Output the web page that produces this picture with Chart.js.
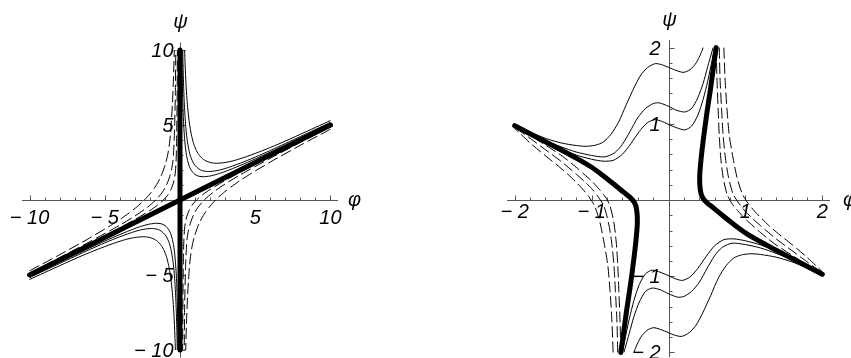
<!DOCTYPE html>
<html>
<head>
<meta charset="utf-8">
<script src="https://cdn.jsdelivr.net/npm/chart.js@4"></script>
<style>
  html, body { margin: 0; padding: 0; background: #fff; }
  body { width: 851px; height: 358px; position: relative; overflow: hidden; }
  canvas { position: absolute; top: 0; }
  #left { left: 0; }
  #right { left: 425px; }
</style>
</head>
<body>
<canvas id="left" width="425" height="358"></canvas>
<canvas id="right" width="426" height="358"></canvas>
<script>
// ---- left panel: phi, psi in [-10, 10] ----
const leftTickValues = [-10, -5, 5, 10];
const leftTickLabels = ['\u2212 10', '\u2212 5', '5', '10'];

const leftDiag = [[-10, -5], [10, 5]];
const leftVertical = [[0, -10], [0, 10]];

// solid branches, first quadrant
const leftSolidInner = [[0.121,10],[0.15,8.07],[0.18,6.76],[0.22,5.56],[0.25,4.93],[0.3,4.15],[0.35,3.6],[0.42,3.07],[0.5,2.65],[0.6,2.3],[0.7,2.06],[0.85,1.84],[1,1.7],[1.25,1.585],[1.55,1.55],[2,1.6],[2.5,1.73],[3,1.9],[4,2.3],[5,2.74],[6,3.2],[8,4.15],[10,5.12]];
const leftSolidMid = [[0.183,10],[0.2,9.1],[0.22,8.29],[0.25,7.33],[0.28,6.57],[0.32,5.79],[0.37,5.05],[0.43,4.4],[0.5,3.85],[0.6,3.3],[0.7,2.92],[0.85,2.54],[1,2.3],[1.25,2.07],[1.5,1.95],[1.9,1.9],[2.4,1.95],[3,2.1],[4,2.45],[5,2.86],[6,3.3],[8,4.23],[10,5.18]];
const leftSolidOuter = [[0.305,10],[0.34,9],[0.4,7.7],[0.46,6.75],[0.53,5.93],[0.64,5.01],[0.75,4.38],[0.9,3.78],[1.05,3.38],[1.25,3.03],[1.5,2.75],[1.8,2.57],[2.1,2.48],[2.45,2.45],[3,2.5],[3.6,2.63],[4.5,2.92],[5.5,3.3],[6.5,3.71],[8,4.38],[10,5.3]];
// solid branches, third quadrant
const leftSolidInnerB = [[-0.121,-10],[-0.15,-8.07],[-0.18,-6.76],[-0.22,-5.56],[-0.25,-4.93],[-0.3,-4.15],[-0.35,-3.6],[-0.42,-3.07],[-0.5,-2.65],[-0.6,-2.3],[-0.7,-2.06],[-0.85,-1.84],[-1,-1.7],[-1.25,-1.585],[-1.55,-1.55],[-2,-1.6],[-2.5,-1.73],[-3,-1.9],[-4,-2.3],[-5,-2.74],[-6,-3.2],[-8,-4.15],[-10,-5.12]];
const leftSolidMidB = [[-0.183,-10],[-0.2,-9.1],[-0.22,-8.29],[-0.25,-7.33],[-0.28,-6.57],[-0.32,-5.79],[-0.37,-5.05],[-0.43,-4.4],[-0.5,-3.85],[-0.6,-3.3],[-0.7,-2.92],[-0.85,-2.54],[-1,-2.3],[-1.25,-2.07],[-1.5,-1.95],[-1.9,-1.9],[-2.4,-1.95],[-3,-2.1],[-4,-2.45],[-5,-2.86],[-6,-3.3],[-8,-4.23],[-10,-5.18]];
const leftSolidOuterB = [[-0.305,-10],[-0.34,-9],[-0.4,-7.7],[-0.46,-6.75],[-0.53,-5.93],[-0.64,-5.01],[-0.75,-4.38],[-0.9,-3.78],[-1.05,-3.38],[-1.25,-3.03],[-1.5,-2.75],[-1.8,-2.57],[-2.1,-2.48],[-2.45,-2.45],[-3,-2.5],[-3.6,-2.63],[-4.5,-2.92],[-5.5,-3.3],[-6.5,-3.71],[-8,-4.38],[-10,-5.3]];
// dashed branches, second quadrant
const leftDashInner = [[-10,-4.94],[-8,-3.93],[-6,-2.9],[-4,-1.85],[-3,-1.3],[-2,-0.7],[-1.5,-0.35],[-1.1,0],[-0.8,0.35],[-0.6,0.7],[-0.45,1.11],[-0.35,1.55],[-0.3,1.95],[-0.26,2.6],[-0.23,3.6],[-0.21,5],[-0.19,7],[-0.175,10]];
const leftDashMid = [[-10,-4.87],[-8,-3.84],[-6,-2.78],[-4,-1.68],[-3,-1.07],[-2.2,-0.51],[-1.6,0.01],[-1.2,0.48],[-1,0.8],[-0.8,1.23],[-0.65,1.68],[-0.55,2.09],[-0.47,2.6],[-0.42,3.3],[-0.38,4.2],[-0.35,5.2],[-0.31,7],[-0.28,10]];
const leftDashOuter = [[-10,-4.72],[-8,-3.65],[-6,-2.53],[-4.5,-1.63],[-3.5,-0.95],[-2.9,-0.49],[-2.37,0],[-2,0.4],[-1.6,0.95],[-1.3,1.5],[-1.1,2],[-0.95,2.47],[-0.82,3],[-0.72,3.6],[-0.63,4.4],[-0.57,5.3],[-0.5,6.5],[-0.43,8.2],[-0.38,10]];
// dashed branches, fourth quadrant
const leftDashInnerB = [[10,4.94],[8,3.93],[6,2.9],[4,1.85],[3,1.3],[2,0.7],[1.5,0.35],[1.1,0],[0.8,-0.35],[0.6,-0.7],[0.45,-1.11],[0.35,-1.55],[0.3,-1.95],[0.26,-2.6],[0.23,-3.6],[0.21,-5],[0.19,-7],[0.175,-10]];
const leftDashMidB = [[10,4.87],[8,3.84],[6,2.78],[4,1.68],[3,1.07],[2.2,0.51],[1.6,-0.01],[1.2,-0.48],[1,-0.8],[0.8,-1.23],[0.65,-1.68],[0.55,-2.09],[0.47,-2.6],[0.42,-3.3],[0.38,-4.2],[0.35,-5.2],[0.31,-7],[0.28,-10]];
const leftDashOuterB = [[10,4.72],[8,3.65],[6,2.53],[4.5,1.63],[3.5,0.95],[2.9,0.49],[2.37,0],[2,-0.4],[1.6,-0.95],[1.3,-1.5],[1.1,-2],[0.95,-2.47],[0.82,-3],[0.72,-3.6],[0.63,-4.4],[0.57,-5.3],[0.5,-6.5],[0.43,-8.2],[0.38,-10]];

// ---- right panel: phi, psi in [-2, 2] ----
const rightTickValues = [-2, -1, 1, 2];
const rightTickLabels = ['\u2212 2', '\u2212 1', '1', '2'];

const rightThickL = [[-2,0.975],[-1.8,0.87],[-1.6,0.765],[-1.4,0.66],[-1.2,0.55],[-1,0.43],[-0.85,0.32],[-0.7,0.2],[-0.58,0.1],[-0.5,0.035],[-0.445,-0.03],[-0.415,-0.12],[-0.405,-0.3],[-0.425,-0.55],[-0.46,-0.85],[-0.5,-1.15],[-0.545,-1.45],[-0.585,-1.75],[-0.62,-2]];
const rightThickR = [[2,-0.975],[1.8,-0.87],[1.6,-0.765],[1.4,-0.66],[1.2,-0.55],[1,-0.43],[0.85,-0.32],[0.7,-0.2],[0.58,-0.1],[0.5,-0.035],[0.445,0.03],[0.415,0.12],[0.405,0.3],[0.425,0.55],[0.46,0.85],[0.5,1.15],[0.545,1.45],[0.585,1.75],[0.62,2]];

// wavy solid curves, upper half
const rightSolidA = [[-2,0.98],[-1.8,0.89],[-1.6,0.81],[-1.4,0.75],[-1.2,0.715],[-1.07,0.705],[-0.95,0.72],[-0.85,0.76],[-0.75,0.86],[-0.65,1.02],[-0.55,1.25],[-0.45,1.47],[-0.36,1.64],[-0.27,1.74],[-0.17,1.79],[-0.07,1.77],[0.05,1.72],[0.19,1.675],[0.28,1.71],[0.36,1.8],[0.42,1.92],[0.45,2]];
const rightSolidB = [[-2,0.975],[-1.8,0.875],[-1.6,0.78],[-1.4,0.7],[-1.2,0.63],[-1,0.585],[-0.83,0.566],[-0.7,0.62],[-0.6,0.73],[-0.5,0.9],[-0.4,1.08],[-0.3,1.2],[-0.2,1.265],[-0.12,1.275],[0,1.23],[0.1,1.18],[0.21,1.155],[0.3,1.2],[0.38,1.34],[0.45,1.53],[0.51,1.75],[0.56,1.93],[0.58,2]];
const rightSolidC = [[-2,0.97],[-1.8,0.865],[-1.6,0.765],[-1.4,0.67],[-1.2,0.59],[-1,0.535],[-0.85,0.51],[-0.72,0.52],[-0.6,0.6],[-0.49,0.74],[-0.38,0.9],[-0.28,1.01],[-0.18,1.055],[-0.08,1.03],[0.05,0.97],[0.21,0.92],[0.3,0.97],[0.38,1.11],[0.45,1.32],[0.51,1.56],[0.56,1.8],[0.6,2]];
// wavy solid curves, lower half
const rightSolidAB = [[2,-0.98],[1.8,-0.89],[1.6,-0.81],[1.4,-0.75],[1.2,-0.715],[1.07,-0.705],[0.95,-0.72],[0.85,-0.76],[0.75,-0.86],[0.65,-1.02],[0.55,-1.25],[0.45,-1.47],[0.36,-1.64],[0.27,-1.74],[0.17,-1.79],[0.07,-1.77],[-0.05,-1.72],[-0.19,-1.675],[-0.28,-1.71],[-0.36,-1.8],[-0.42,-1.92],[-0.45,-2]];
const rightSolidBB = [[2,-0.975],[1.8,-0.875],[1.6,-0.78],[1.4,-0.7],[1.2,-0.63],[1,-0.585],[0.83,-0.566],[0.7,-0.62],[0.6,-0.73],[0.5,-0.9],[0.4,-1.08],[0.3,-1.2],[0.2,-1.265],[0.12,-1.275],[0,-1.23],[-0.1,-1.18],[-0.21,-1.155],[-0.3,-1.2],[-0.38,-1.34],[-0.45,-1.53],[-0.51,-1.75],[-0.56,-1.93],[-0.58,-2]];
const rightSolidCB = [[2,-0.97],[1.8,-0.865],[1.6,-0.765],[1.4,-0.67],[1.2,-0.59],[1,-0.535],[0.85,-0.51],[0.72,-0.52],[0.6,-0.6],[0.49,-0.74],[0.38,-0.9],[0.28,-1.01],[0.18,-1.055],[0.08,-1.03],[-0.05,-0.97],[-0.21,-0.92],[-0.3,-0.97],[-0.38,-1.11],[-0.45,-1.32],[-0.51,-1.56],[-0.56,-1.8],[-0.6,-2]];

// dashed curves outside the right thick branch
const rightDash1 = [[0.62,2],[0.63,1.6],[0.645,1.2],[0.66,0.85],[0.68,0.55],[0.71,0.3],[0.76,0.08],[0.82,-0.04],[0.9,-0.14],[1,-0.25],[1.1,-0.34],[1.2,-0.43],[1.4,-0.59],[1.6,-0.72],[1.8,-0.85],[2,-0.965]];
const rightDash2 = [[0.66,2],[0.67,1.6],[0.69,1.2],[0.71,0.85],[0.74,0.55],[0.78,0.3],[0.84,0.08],[0.92,-0.05],[1,-0.15],[1.1,-0.25],[1.2,-0.34],[1.4,-0.51],[1.6,-0.66],[1.8,-0.81],[2,-0.955]];
const rightDash3 = [[0.72,2],[0.735,1.6],[0.76,1.2],[0.79,0.85],[0.84,0.55],[0.89,0.3],[0.96,0.08],[1.04,-0.05],[1.15,-0.18],[1.3,-0.33],[1.45,-0.46],[1.6,-0.58],[1.8,-0.75],[2,-0.94]];
// dashed curves outside the left thick branch
const rightDash1B = [[-0.62,-2],[-0.63,-1.6],[-0.645,-1.2],[-0.66,-0.85],[-0.68,-0.55],[-0.71,-0.3],[-0.76,-0.08],[-0.82,0.04],[-0.9,0.14],[-1,0.25],[-1.1,0.34],[-1.2,0.43],[-1.4,0.59],[-1.6,0.72],[-1.8,0.85],[-2,0.965]];
const rightDash2B = [[-0.66,-2],[-0.67,-1.6],[-0.69,-1.2],[-0.71,-0.85],[-0.74,-0.55],[-0.78,-0.3],[-0.84,-0.08],[-0.92,0.05],[-1,0.15],[-1.1,0.25],[-1.2,0.34],[-1.4,0.51],[-1.6,0.66],[-1.8,0.81],[-2,0.955]];
const rightDash3B = [[-0.72,-2],[-0.735,-1.6],[-0.76,-1.2],[-0.79,-0.85],[-0.84,-0.55],[-0.89,-0.3],[-0.96,-0.08],[-1.04,0.05],[-1.15,0.18],[-1.3,0.33],[-1.45,0.46],[-1.6,0.58],[-1.8,0.75],[-2,0.94]];

const FONT = 'italic 20px "Liberation Sans", Arial, sans-serif';

// axes through the origin, Mathematica style: ticks point inwards, labels outside
const crossAxes = {
  id: 'crossAxes',
  beforeDatasetsDraw(chart, args, o) {
    const { ctx, scales: { x, y } } = chart;
    const x0 = Math.round(x.getPixelForValue(0)) + 0.5;
    const y0 = Math.round(y.getPixelForValue(0)) + 0.5;
    ctx.save();
    ctx.strokeStyle = '#555';
    ctx.lineWidth = 1;
    ctx.beginPath();
    ctx.moveTo(x.left, y0); ctx.lineTo(x.right, y0);
    ctx.moveTo(x0, y.top); ctx.lineTo(x0, y.bottom);
    const n = Math.round((o.tickMax - o.tickMin) / o.step);
    for (let i = 0; i <= n; i++) {
      const v = o.tickMin + i * o.step;
      if (Math.abs(v) < 1e-9) continue;
      const major = Math.abs(v / o.major - Math.round(v / o.major)) < 1e-6;
      const len = major ? 5 : 3;
      const px = Math.round(x.getPixelForValue(v)) + 0.5;
      const py = Math.round(y.getPixelForValue(v)) + 0.5;
      ctx.moveTo(px, y0); ctx.lineTo(px, y0 - len);
      ctx.moveTo(x0, py); ctx.lineTo(x0 + len, py);
    }
    ctx.stroke();

    ctx.fillStyle = '#000';
    ctx.font = FONT;
    ctx.textBaseline = 'alphabetic';
    o.values.forEach((v, i) => {
      ctx.textAlign = 'center';
      ctx.fillText(o.labels[i], x.getPixelForValue(v), y0 + o.xLabelDrop);
      ctx.textAlign = 'right';
      ctx.fillText(o.labels[i], x0 - o.yLabelGap, y.getPixelForValue(v) + 7);
    });
    ctx.textAlign = 'left';
    ctx.fillText('\u03c6', x.right + o.phiGap, y0 + 5);
    ctx.textAlign = 'center';
    ctx.fillText('\u03c8', x0, o.psiBase);
    ctx.restore();
  }
};

function curve(data, kind) {
  return {
    data,
    showLine: true,
    pointRadius: 0,
    borderColor: '#000',
    borderWidth: kind === 'thick' ? 5 : 1,
    borderDash: kind === 'dash' ? [11, 4] : [],
    borderCapStyle: kind === 'thick' ? 'round' : 'butt',
    tension: 0.25
  };
}

function makePanel(id, datasets, range, padding, axes) {
  return new Chart(document.getElementById(id), {
    type: 'scatter',
    data: { datasets },
    options: {
      responsive: false,
      animation: false,
      devicePixelRatio: 1,
      events: [],
      layout: { padding },
      plugins: { legend: { display: false }, tooltip: { enabled: false }, crossAxes: axes },
      scales: {
        x: { type: 'linear', display: false, min: range.xMin, max: range.xMax },
        y: { type: 'linear', display: false, min: range.yMin, max: range.yMax }
      }
    },
    plugins: [crossAxes]
  });
}

// thick curves come first so they are painted on top
makePanel('left', [
  curve(leftDiag, 'thick'), curve(leftVertical, 'thick'),
  curve(leftSolidInner), curve(leftSolidMid), curve(leftSolidOuter),
  curve(leftSolidInnerB), curve(leftSolidMidB), curve(leftSolidOuterB),
  curve(leftDashInner, 'dash'), curve(leftDashMid, 'dash'), curve(leftDashOuter, 'dash'),
  curve(leftDashInnerB, 'dash'), curve(leftDashMidB, 'dash'), curve(leftDashOuterB, 'dash')
], { xMin: -10.5, xMax: 10.5, yMin: -10.5, yMax: 10.5 },
{ left: 22, right: 87, top: 42.5, bottom: 0.5 },
{ values: leftTickValues, labels: leftTickLabels, tickMin: -10, tickMax: 10, step: 1, major: 5,
  xLabelDrop: 23, yLabelGap: 7, phiGap: 10, psiBase: 28 });

makePanel('right', [
  curve(rightThickL, 'thick'), curve(rightThickR, 'thick'),
  curve(rightSolidA), curve(rightSolidB), curve(rightSolidC),
  curve(rightSolidAB), curve(rightSolidBB), curve(rightSolidCB),
  curve(rightDash1, 'dash'), curve(rightDash2, 'dash'), curve(rightDash3, 'dash'),
  curve(rightDash1B, 'dash'), curve(rightDash2B, 'dash'), curve(rightDash3B, 'dash')
], { xMin: -2.1, xMax: 2.1, yMin: -2.06, yMax: 2.1 },
{ left: 82, right: 21, top: 40, bottom: 1 },
{ values: rightTickValues, labels: rightTickLabels, tickMin: -2, tickMax: 2, step: 0.2, major: 1,
  xLabelDrop: 17, yLabelGap: 9, phiGap: 13, psiBase: 26 });
</script>
</body>
</html>
